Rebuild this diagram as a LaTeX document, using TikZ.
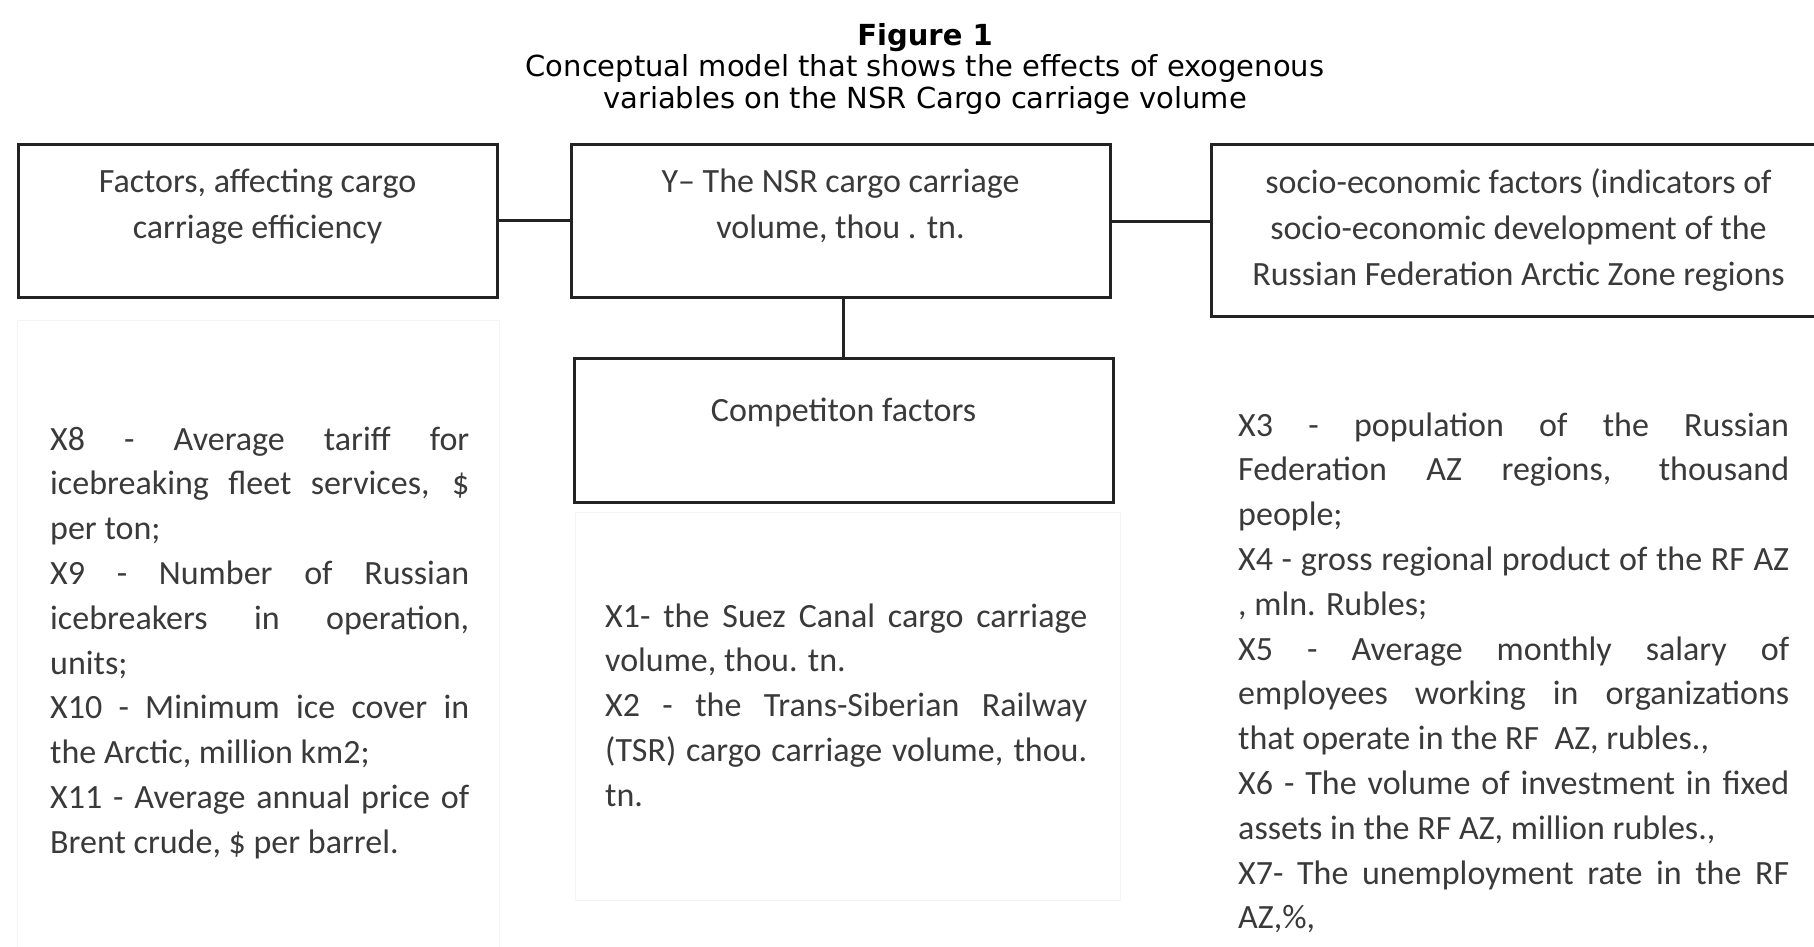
\documentclass[tikz,border=0pt]{standalone}
\usepackage{fontspec}
\setmainfont{Carlito}
\newfontfamily\titlefont{DejaVu Sans}
\usetikzlibrary{calc}
\definecolor{txtcol}{HTML}{3A3A3A}
\definecolor{linecol}{HTML}{232323}
\definecolor{faintcol}{HTML}{F4F4F4}
\newcommand{\JL}[2]{\makebox[#1][s]{#2}}
\newcommand{\LL}[2]{\makebox[#1][l]{#2}}
\begin{document}
\begin{tikzpicture}[x=1pt,y=-1pt,
  box/.style={draw=linecol, line width=3pt, rectangle, inner sep=0pt},
  conn/.style={draw=linecol, line width=3pt},
  faintbox/.style={draw=faintcol, line width=1.2pt, rectangle, inner sep=0pt},
  boxtext/.style={inner sep=0pt, align=center, text=txtcol, font=\fontsize{34}{46}\selectfont},
  para/.style={inner sep=0pt, align=left, text=txtcol, font=\fontsize{34}{44.8}\selectfont},
  titletext/.style={inner sep=0pt, align=center, text=black, font=\titlefont\fontsize{29}{31.5}\selectfont}]
\useasboundingbox[fill=white] (0,0) rectangle (1814,946);

% title
\node[titletext, anchor=north] (title) at (925,22.9)
  {\strut{\bfseries Figure 1}\\Conceptual model that shows the effects of exogenous\\variables on the NSR Cargo carriage volume};

% faint text frames
\node[faintbox, minimum width=482pt, minimum height=640pt, anchor=north west] (leftbg) at (17,320) {};
\node[faintbox, minimum width=545pt, minimum height=388pt, anchor=north west] (midbg) at (575,512) {};

% boxes
\node[box, minimum width=479pt, minimum height=153pt] (left) at (257.5,220.5) {};
\node[box, minimum width=539pt, minimum height=153pt] (mid) at (840.5,220.5) {};
\node[box, minimum width=615pt, minimum height=172pt] (right) at (1518.5,230) {};
\node[box, minimum width=539pt, minimum height=144pt] (comp) at (843.5,430) {};

% box labels
\node[boxtext, anchor=north] (lefttxt) at (257.5,159.8)
  {\strut Factors, affecting cargo\\carriage efficiency};
\node[boxtext, anchor=north] (midtxt) at (840.5,159.8)
  {\strut Y– The NSR cargo carriage\\volume, thou . tn.};
\node[boxtext, anchor=north] (righttxt) at (1518.5,160.8)
  {\strut socio-economic factors (indicators of\\socio-economic development of the\\Russian Federation Arctic Zone regions};
\node[boxtext, anchor=north] (comptxt) at (843.5,388.8)
  {\strut Competiton factors};

% connectors
\coordinate (midR) at ($(mid.east)+(0,1)$);
\draw[conn] (left.east) -- (mid.west);
\draw[conn] (midR) -- (midR -| right.west);
\draw[conn] (comp.north |- mid.south) -- (comp.north);

% variable lists
\node[para, anchor=north west] (leftlist) at (50,418.6)
  {\strut\JL{419pt}{X8 - Average tariff for}\\
   \JL{419pt}{icebreaking fleet services, \$}\\
   \LL{419pt}{per ton;}\\
   \JL{419pt}{X9 - Number of Russian}\\
   \JL{419pt}{icebreakers in operation,}\\
   \LL{419pt}{units;}\\
   \JL{419pt}{X10 - Minimum ice cover in}\\
   \LL{419pt}{the Arctic, million km2;}\\
   \JL{419pt}{X11 - Average annual price of}\\
   \LL{419pt}{Brent crude, \$ per barrel.}};

\node[para, anchor=north west] (midlist) at (605,595.6)
  {\strut\JL{482pt}{X1- the Suez Canal cargo carriage}\\
   \LL{482pt}{volume, thou. tn.}\\
   \JL{482pt}{X2 - the Trans-Siberian Railway}\\
   \JL{482pt}{(TSR) cargo carriage volume, thou.}\\
   \LL{482pt}{tn.}};

\node[para, anchor=north west] (rightlist) at (1238,404.6)
  {\strut\JL{551pt}{X3 - population of the Russian}\\
   \JL{551pt}{Federation AZ regions, thousand}\\
   \LL{551pt}{people;}\\
   \JL{551pt}{X4 - gross regional product of the RF AZ}\\
   \LL{551pt}{, mln. Rubles;}\\
   \JL{551pt}{X5 - Average monthly salary of}\\
   \JL{551pt}{employees working in organizations}\\
   \LL{551pt}{that operate in the RF\ \ AZ, rubles.,}\\
   \JL{551pt}{X6 - The volume of investment in fixed}\\
   \LL{551pt}{assets in the RF AZ, million rubles.,}\\
   \JL{551pt}{X7- The unemployment rate in the RF}\\
   \LL{551pt}{AZ,\%,}};
\end{tikzpicture}
\end{document}
